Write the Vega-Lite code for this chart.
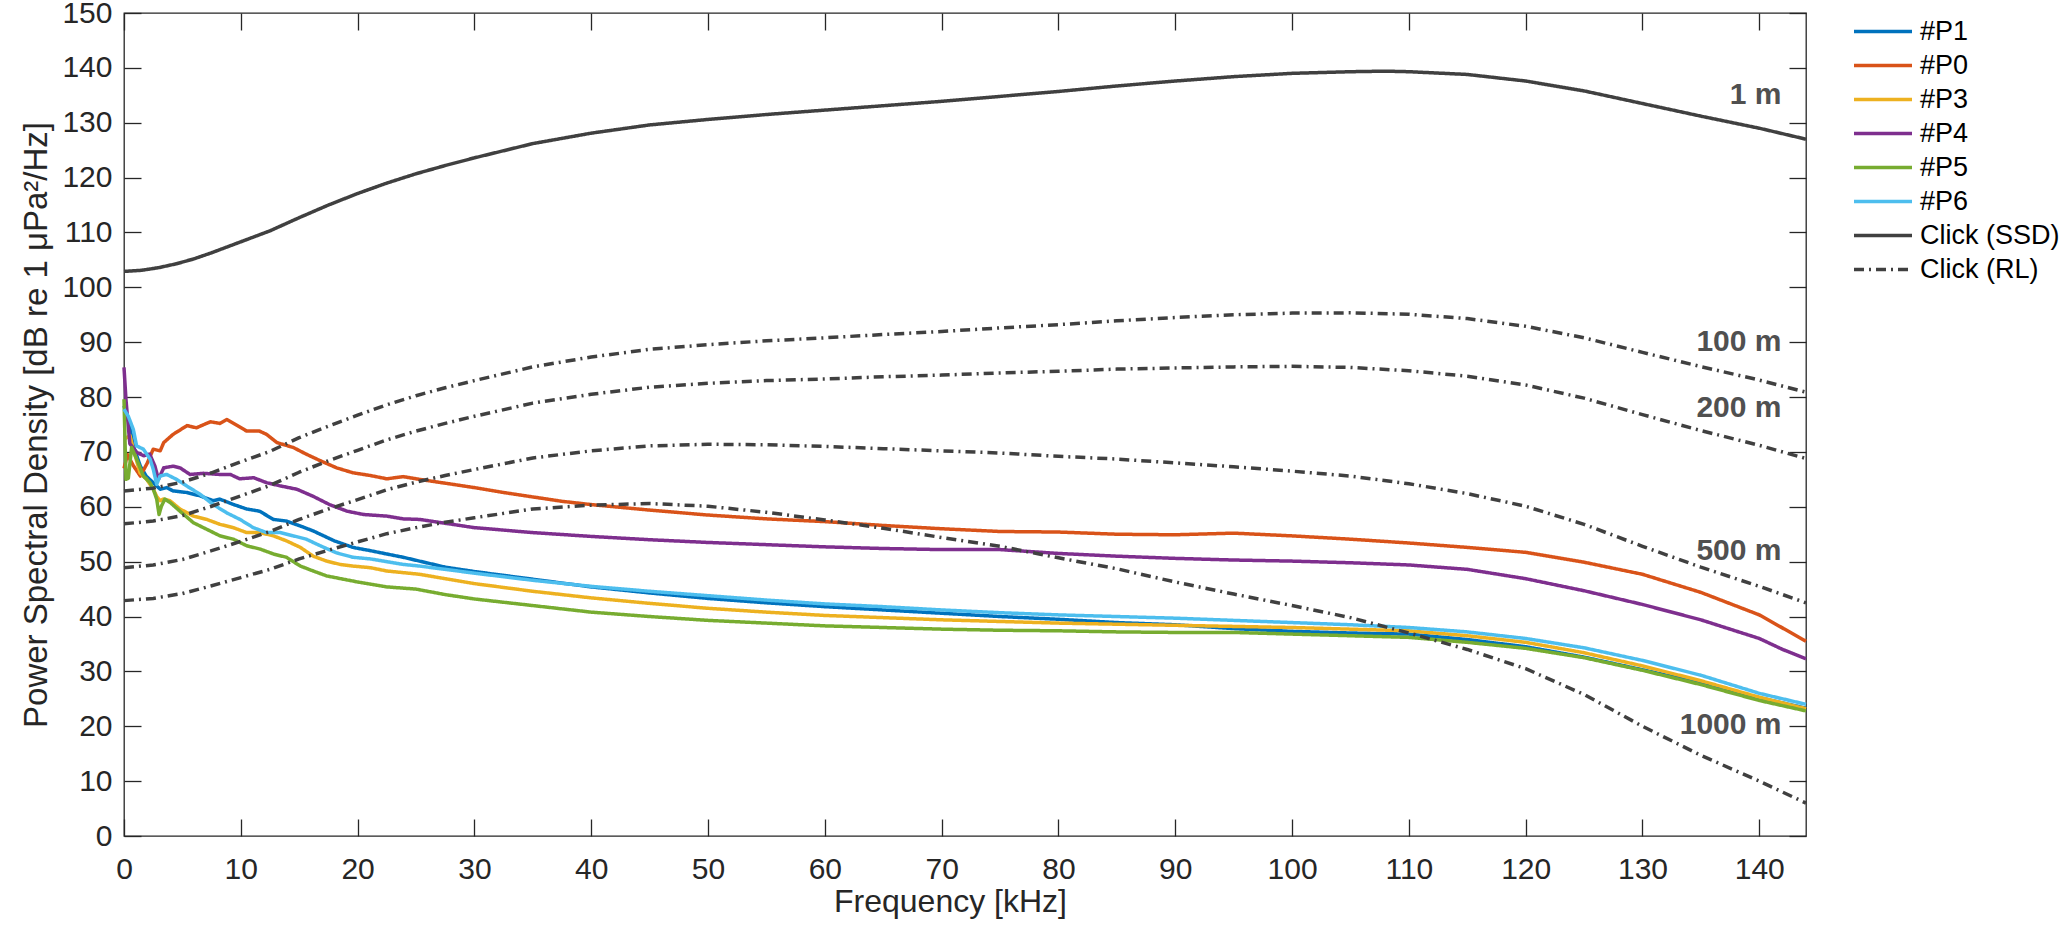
{
"$schema": "https://vega.github.io/schema/vega-lite/v6.json",
"width": 1682, "height": 823,
"autosize": {"type": "none"},
"padding": {"left": 124, "top": 13, "right": 257, "bottom": 99},
"background": "white",
"config": {
  "font": "Liberation Sans",
  "view": {"stroke": "#262626", "strokeWidth": 1.3},
  "axis": {"domain": false, "grid": false, "tickColor": "#262626", "tickWidth": 1.3, "tickSize": -17, "labelFlush": false, "labelOverlap": false,
           "labelFont": "Liberation Sans", "labelFontSize": 30, "labelColor": "#262626",
           "titleFont": "Liberation Sans", "titleFontSize": 32, "titleFontWeight": "normal", "titleColor": "#262626"},
  "legend": {"orient": "none", "legendX": 1728, "legendY": 5, "padding": 0, "title": null,
             "labelFont": "Liberation Sans", "labelFontSize": 27, "labelColor": "#000000", "labelOffset": 6,
             "symbolType": "stroke", "symbolSize": 3364, "clipHeight": 27, "rowPadding": 6}
},
"datasets": {
"curves": [
{"s":"#P1","c":"P1","f":0,"v":78.4},{"s":"#P1","c":"P1","f":0.37,"v":75.9},{"s":"#P1","c":"P1","f":0.8,"v":71.1},{"s":"#P1","c":"P1","f":1.4,"v":67.4},{"s":"#P1","c":"P1","f":1.9,"v":65.6},{"s":"#P1","c":"P1","f":2.5,"v":64.4},{"s":"#P1","c":"P1","f":3.1,"v":63.2},{"s":"#P1","c":"P1","f":3.65,"v":63.5},{"s":"#P1","c":"P1","f":4.2,"v":62.9},{"s":"#P1","c":"P1","f":5.4,"v":62.6},{"s":"#P1","c":"P1","f":6.5,"v":62.0},{"s":"#P1","c":"P1","f":7.65,"v":61.1},{"s":"#P1","c":"P1","f":8.2,"v":61.4},{"s":"#P1","c":"P1","f":9.4,"v":60.4},{"s":"#P1","c":"P1","f":10.5,"v":59.6},{"s":"#P1","c":"P1","f":11.6,"v":59.2},{"s":"#P1","c":"P1","f":12.8,"v":57.7},{"s":"#P1","c":"P1","f":13.9,"v":57.4},{"s":"#P1","c":"P1","f":15.1,"v":56.5},{"s":"#P1","c":"P1","f":16.2,"v":55.6},{"s":"#P1","c":"P1","f":18.0,"v":53.8},{"s":"#P1","c":"P1","f":19.6,"v":52.6},{"s":"#P1","c":"P1","f":21.1,"v":52.0},{"s":"#P1","c":"P1","f":22.5,"v":51.4},{"s":"#P1","c":"P1","f":23.9,"v":50.8},{"s":"#P1","c":"P1","f":25.3,"v":50.1},{"s":"#P1","c":"P1","f":27.5,"v":49.0},{"s":"#P1","c":"P1","f":30,"v":48.2},{"s":"#P1","c":"P1","f":35,"v":46.8},{"s":"#P1","c":"P1","f":40,"v":45.4},{"s":"#P1","c":"P1","f":45,"v":44.3},{"s":"#P1","c":"P1","f":50,"v":43.3},{"s":"#P1","c":"P1","f":55,"v":42.5},{"s":"#P1","c":"P1","f":60,"v":41.8},{"s":"#P1","c":"P1","f":65,"v":41.2},{"s":"#P1","c":"P1","f":70,"v":40.6},{"s":"#P1","c":"P1","f":75,"v":40.0},{"s":"#P1","c":"P1","f":80,"v":39.5},{"s":"#P1","c":"P1","f":85,"v":38.9},{"s":"#P1","c":"P1","f":90,"v":38.5},{"s":"#P1","c":"P1","f":95,"v":37.8},{"s":"#P1","c":"P1","f":100,"v":37.3},{"s":"#P1","c":"P1","f":105,"v":37.0},{"s":"#P1","c":"P1","f":110,"v":36.8},{"s":"#P1","c":"P1","f":115,"v":35.8},{"s":"#P1","c":"P1","f":120,"v":34.5},{"s":"#P1","c":"P1","f":125,"v":32.6},{"s":"#P1","c":"P1","f":130,"v":30.3},{"s":"#P1","c":"P1","f":135,"v":27.9},{"s":"#P1","c":"P1","f":140,"v":25.2},{"s":"#P1","c":"P1","f":144,"v":23.3},

{"s":"#P0","c":"P0","f":0,"v":67.0},{"s":"#P0","c":"P0","f":0.3,"v":69.5},{"s":"#P0","c":"P0","f":0.8,"v":67.5},{"s":"#P0","c":"P0","f":1.4,"v":65.6},{"s":"#P0","c":"P0","f":2.0,"v":68.0},{"s":"#P0","c":"P0","f":2.5,"v":70.5},{"s":"#P0","c":"P0","f":3.1,"v":70.2},{"s":"#P0","c":"P0","f":3.4,"v":71.7},{"s":"#P0","c":"P0","f":4.2,"v":73.2},{"s":"#P0","c":"P0","f":5.4,"v":74.8},{"s":"#P0","c":"P0","f":6.2,"v":74.4},{"s":"#P0","c":"P0","f":7.4,"v":75.5},{"s":"#P0","c":"P0","f":8.2,"v":75.2},{"s":"#P0","c":"P0","f":8.8,"v":75.9},{"s":"#P0","c":"P0","f":9.7,"v":74.8},{"s":"#P0","c":"P0","f":10.5,"v":73.8},{"s":"#P0","c":"P0","f":11.6,"v":73.8},{"s":"#P0","c":"P0","f":12.2,"v":73.2},{"s":"#P0","c":"P0","f":13.1,"v":71.7},{"s":"#P0","c":"P0","f":14.5,"v":70.8},{"s":"#P0","c":"P0","f":15.6,"v":69.6},{"s":"#P0","c":"P0","f":16.8,"v":68.4},{"s":"#P0","c":"P0","f":18.2,"v":67.1},{"s":"#P0","c":"P0","f":19.6,"v":66.2},{"s":"#P0","c":"P0","f":21.1,"v":65.7},{"s":"#P0","c":"P0","f":22.5,"v":65.1},{"s":"#P0","c":"P0","f":23.9,"v":65.5},{"s":"#P0","c":"P0","f":25.3,"v":65.0},{"s":"#P0","c":"P0","f":27.5,"v":64.3},{"s":"#P0","c":"P0","f":30,"v":63.5},{"s":"#P0","c":"P0","f":32.5,"v":62.6},{"s":"#P0","c":"P0","f":35,"v":61.8},{"s":"#P0","c":"P0","f":37.5,"v":61.0},{"s":"#P0","c":"P0","f":40,"v":60.4},{"s":"#P0","c":"P0","f":45,"v":59.4},{"s":"#P0","c":"P0","f":50,"v":58.5},{"s":"#P0","c":"P0","f":55,"v":57.8},{"s":"#P0","c":"P0","f":60,"v":57.3},{"s":"#P0","c":"P0","f":65,"v":56.6},{"s":"#P0","c":"P0","f":70,"v":56.0},{"s":"#P0","c":"P0","f":75,"v":55.5},{"s":"#P0","c":"P0","f":80,"v":55.4},{"s":"#P0","c":"P0","f":85,"v":55.0},{"s":"#P0","c":"P0","f":90,"v":54.9},{"s":"#P0","c":"P0","f":95,"v":55.2},{"s":"#P0","c":"P0","f":100,"v":54.7},{"s":"#P0","c":"P0","f":105,"v":54.1},{"s":"#P0","c":"P0","f":110,"v":53.4},{"s":"#P0","c":"P0","f":115,"v":52.6},{"s":"#P0","c":"P0","f":120,"v":51.7},{"s":"#P0","c":"P0","f":125,"v":49.9},{"s":"#P0","c":"P0","f":130,"v":47.7},{"s":"#P0","c":"P0","f":135,"v":44.4},{"s":"#P0","c":"P0","f":140,"v":40.3},{"s":"#P0","c":"P0","f":144,"v":35.5},

{"s":"#P3","c":"P3","f":0,"v":72.3},{"s":"#P3","c":"P3","f":0.51,"v":73.0},{"s":"#P3","c":"P3","f":0.8,"v":70.5},{"s":"#P3","c":"P3","f":1.37,"v":66.2},{"s":"#P3","c":"P3","f":1.94,"v":65.0},{"s":"#P3","c":"P3","f":2.51,"v":63.2},{"s":"#P3","c":"P3","f":2.8,"v":61.9},{"s":"#P3","c":"P3","f":3.08,"v":61.1},{"s":"#P3","c":"P3","f":3.37,"v":61.4},{"s":"#P3","c":"P3","f":3.94,"v":61.1},{"s":"#P3","c":"P3","f":4.79,"v":59.6},{"s":"#P3","c":"P3","f":5.94,"v":58.3},{"s":"#P3","c":"P3","f":7.08,"v":57.7},{"s":"#P3","c":"P3","f":8.22,"v":56.8},{"s":"#P3","c":"P3","f":9.36,"v":56.2},{"s":"#P3","c":"P3","f":10.5,"v":55.3},{"s":"#P3","c":"P3","f":11.64,"v":55.3},{"s":"#P3","c":"P3","f":12.8,"v":54.7},{"s":"#P3","c":"P3","f":13.9,"v":53.8},{"s":"#P3","c":"P3","f":15.1,"v":52.6},{"s":"#P3","c":"P3","f":16.2,"v":51.0},{"s":"#P3","c":"P3","f":17.35,"v":50.1},{"s":"#P3","c":"P3","f":18.5,"v":49.5},{"s":"#P3","c":"P3","f":19.6,"v":49.2},{"s":"#P3","c":"P3","f":21.1,"v":48.9},{"s":"#P3","c":"P3","f":22.5,"v":48.3},{"s":"#P3","c":"P3","f":23.9,"v":48.0},{"s":"#P3","c":"P3","f":25.3,"v":47.7},{"s":"#P3","c":"P3","f":27.5,"v":46.9},{"s":"#P3","c":"P3","f":30,"v":46.0},{"s":"#P3","c":"P3","f":35,"v":44.6},{"s":"#P3","c":"P3","f":40,"v":43.4},{"s":"#P3","c":"P3","f":45,"v":42.4},{"s":"#P3","c":"P3","f":50,"v":41.5},{"s":"#P3","c":"P3","f":55,"v":40.8},{"s":"#P3","c":"P3","f":60,"v":40.2},{"s":"#P3","c":"P3","f":65,"v":39.8},{"s":"#P3","c":"P3","f":70,"v":39.4},{"s":"#P3","c":"P3","f":75,"v":39.1},{"s":"#P3","c":"P3","f":80,"v":38.8},{"s":"#P3","c":"P3","f":85,"v":38.6},{"s":"#P3","c":"P3","f":90,"v":38.4},{"s":"#P3","c":"P3","f":95,"v":38.2},{"s":"#P3","c":"P3","f":100,"v":38.0},{"s":"#P3","c":"P3","f":105,"v":37.7},{"s":"#P3","c":"P3","f":110,"v":37.4},{"s":"#P3","c":"P3","f":115,"v":36.5},{"s":"#P3","c":"P3","f":120,"v":35.3},{"s":"#P3","c":"P3","f":125,"v":33.4},{"s":"#P3","c":"P3","f":130,"v":31.0},{"s":"#P3","c":"P3","f":135,"v":28.3},{"s":"#P3","c":"P3","f":140,"v":25.3},{"s":"#P3","c":"P3","f":144,"v":23.2},

{"s":"#P4","c":"P4","f":0,"v":85.4},{"s":"#P4","c":"P4","f":0.17,"v":79.5},{"s":"#P4","c":"P4","f":0.5,"v":71.5},{"s":"#P4","c":"P4","f":1.1,"v":69.9},{"s":"#P4","c":"P4","f":1.7,"v":69.3},{"s":"#P4","c":"P4","f":2.2,"v":69.6},{"s":"#P4","c":"P4","f":2.65,"v":67.4},{"s":"#P4","c":"P4","f":2.95,"v":65.0},{"s":"#P4","c":"P4","f":3.4,"v":67.1},{"s":"#P4","c":"P4","f":4.2,"v":67.4},{"s":"#P4","c":"P4","f":4.8,"v":67.1},{"s":"#P4","c":"P4","f":5.65,"v":65.9},{"s":"#P4","c":"P4","f":6.8,"v":66.1},{"s":"#P4","c":"P4","f":8.2,"v":65.9},{"s":"#P4","c":"P4","f":9.1,"v":65.9},{"s":"#P4","c":"P4","f":9.9,"v":65.1},{"s":"#P4","c":"P4","f":11.1,"v":65.3},{"s":"#P4","c":"P4","f":12.2,"v":64.4},{"s":"#P4","c":"P4","f":13.4,"v":63.8},{"s":"#P4","c":"P4","f":14.8,"v":63.2},{"s":"#P4","c":"P4","f":16.2,"v":61.9},{"s":"#P4","c":"P4","f":17.6,"v":60.4},{"s":"#P4","c":"P4","f":19.1,"v":59.2},{"s":"#P4","c":"P4","f":20.5,"v":58.6},{"s":"#P4","c":"P4","f":22.5,"v":58.3},{"s":"#P4","c":"P4","f":23.9,"v":57.8},{"s":"#P4","c":"P4","f":25.3,"v":57.7},{"s":"#P4","c":"P4","f":27.5,"v":57.0},{"s":"#P4","c":"P4","f":30,"v":56.2},{"s":"#P4","c":"P4","f":35,"v":55.3},{"s":"#P4","c":"P4","f":40,"v":54.6},{"s":"#P4","c":"P4","f":45,"v":54.0},{"s":"#P4","c":"P4","f":50,"v":53.5},{"s":"#P4","c":"P4","f":55,"v":53.1},{"s":"#P4","c":"P4","f":60,"v":52.7},{"s":"#P4","c":"P4","f":65,"v":52.4},{"s":"#P4","c":"P4","f":70,"v":52.2},{"s":"#P4","c":"P4","f":75,"v":52.2},{"s":"#P4","c":"P4","f":80,"v":51.5},{"s":"#P4","c":"P4","f":85,"v":51.0},{"s":"#P4","c":"P4","f":90,"v":50.6},{"s":"#P4","c":"P4","f":95,"v":50.3},{"s":"#P4","c":"P4","f":100,"v":50.1},{"s":"#P4","c":"P4","f":105,"v":49.8},{"s":"#P4","c":"P4","f":110,"v":49.4},{"s":"#P4","c":"P4","f":115,"v":48.6},{"s":"#P4","c":"P4","f":120,"v":46.9},{"s":"#P4","c":"P4","f":125,"v":44.7},{"s":"#P4","c":"P4","f":130,"v":42.2},{"s":"#P4","c":"P4","f":135,"v":39.4},{"s":"#P4","c":"P4","f":140,"v":36.0},{"s":"#P4","c":"P4","f":142,"v":34.0},{"s":"#P4","c":"P4","f":144,"v":32.3},

{"s":"#P5","c":"P5","f":0,"v":79.6},{"s":"#P5","c":"P5","f":0.17,"v":65.0},{"s":"#P5","c":"P5","f":0.37,"v":65.2},{"s":"#P5","c":"P5","f":0.65,"v":70.8},{"s":"#P5","c":"P5","f":1.08,"v":68.7},{"s":"#P5","c":"P5","f":1.66,"v":65.6},{"s":"#P5","c":"P5","f":2.23,"v":64.4},{"s":"#P5","c":"P5","f":2.51,"v":63.2},{"s":"#P5","c":"P5","f":2.8,"v":61.4},{"s":"#P5","c":"P5","f":3.0,"v":58.6},{"s":"#P5","c":"P5","f":3.2,"v":60.1},{"s":"#P5","c":"P5","f":3.5,"v":61.4},{"s":"#P5","c":"P5","f":3.94,"v":60.8},{"s":"#P5","c":"P5","f":4.79,"v":59.2},{"s":"#P5","c":"P5","f":5.94,"v":57.1},{"s":"#P5","c":"P5","f":7.08,"v":55.9},{"s":"#P5","c":"P5","f":8.22,"v":54.7},{"s":"#P5","c":"P5","f":9.36,"v":54.1},{"s":"#P5","c":"P5","f":10.5,"v":52.9},{"s":"#P5","c":"P5","f":11.64,"v":52.3},{"s":"#P5","c":"P5","f":12.8,"v":51.4},{"s":"#P5","c":"P5","f":13.9,"v":50.8},{"s":"#P5","c":"P5","f":15.1,"v":49.2},{"s":"#P5","c":"P5","f":16.2,"v":48.3},{"s":"#P5","c":"P5","f":17.35,"v":47.4},{"s":"#P5","c":"P5","f":20,"v":46.3},{"s":"#P5","c":"P5","f":22.5,"v":45.4},{"s":"#P5","c":"P5","f":25,"v":45.0},{"s":"#P5","c":"P5","f":27.5,"v":44.0},{"s":"#P5","c":"P5","f":30,"v":43.2},{"s":"#P5","c":"P5","f":35,"v":42.0},{"s":"#P5","c":"P5","f":40,"v":40.8},{"s":"#P5","c":"P5","f":45,"v":40.0},{"s":"#P5","c":"P5","f":50,"v":39.3},{"s":"#P5","c":"P5","f":55,"v":38.8},{"s":"#P5","c":"P5","f":60,"v":38.3},{"s":"#P5","c":"P5","f":65,"v":38.0},{"s":"#P5","c":"P5","f":70,"v":37.7},{"s":"#P5","c":"P5","f":75,"v":37.5},{"s":"#P5","c":"P5","f":80,"v":37.4},{"s":"#P5","c":"P5","f":85,"v":37.2},{"s":"#P5","c":"P5","f":90,"v":37.1},{"s":"#P5","c":"P5","f":95,"v":37.1},{"s":"#P5","c":"P5","f":100,"v":36.8},{"s":"#P5","c":"P5","f":105,"v":36.5},{"s":"#P5","c":"P5","f":110,"v":36.2},{"s":"#P5","c":"P5","f":115,"v":35.3},{"s":"#P5","c":"P5","f":120,"v":34.2},{"s":"#P5","c":"P5","f":125,"v":32.5},{"s":"#P5","c":"P5","f":130,"v":30.2},{"s":"#P5","c":"P5","f":135,"v":27.6},{"s":"#P5","c":"P5","f":140,"v":24.7},{"s":"#P5","c":"P5","f":144,"v":22.8},

{"s":"#P6","c":"P6","f":0,"v":77.8},{"s":"#P6","c":"P6","f":0.37,"v":76.5},{"s":"#P6","c":"P6","f":0.8,"v":74.1},{"s":"#P6","c":"P6","f":1.08,"v":71.1},{"s":"#P6","c":"P6","f":1.66,"v":70.5},{"s":"#P6","c":"P6","f":2.23,"v":68.7},{"s":"#P6","c":"P6","f":2.51,"v":66.8},{"s":"#P6","c":"P6","f":2.8,"v":64.1},{"s":"#P6","c":"P6","f":3.08,"v":65.6},{"s":"#P6","c":"P6","f":3.65,"v":65.9},{"s":"#P6","c":"P6","f":4.5,"v":65.0},{"s":"#P6","c":"P6","f":5.37,"v":63.8},{"s":"#P6","c":"P6","f":6.5,"v":62.3},{"s":"#P6","c":"P6","f":7.65,"v":60.4},{"s":"#P6","c":"P6","f":8.79,"v":58.9},{"s":"#P6","c":"P6","f":9.93,"v":57.7},{"s":"#P6","c":"P6","f":11.07,"v":56.2},{"s":"#P6","c":"P6","f":12.2,"v":55.3},{"s":"#P6","c":"P6","f":13.4,"v":55.3},{"s":"#P6","c":"P6","f":14.5,"v":54.7},{"s":"#P6","c":"P6","f":15.6,"v":54.1},{"s":"#P6","c":"P6","f":16.8,"v":52.9},{"s":"#P6","c":"P6","f":18.2,"v":51.6},{"s":"#P6","c":"P6","f":19.6,"v":50.8},{"s":"#P6","c":"P6","f":21.1,"v":50.5},{"s":"#P6","c":"P6","f":22.5,"v":50.0},{"s":"#P6","c":"P6","f":23.9,"v":49.5},{"s":"#P6","c":"P6","f":25.3,"v":49.2},{"s":"#P6","c":"P6","f":27.5,"v":48.6},{"s":"#P6","c":"P6","f":30,"v":47.9},{"s":"#P6","c":"P6","f":35,"v":46.6},{"s":"#P6","c":"P6","f":40,"v":45.5},{"s":"#P6","c":"P6","f":45,"v":44.6},{"s":"#P6","c":"P6","f":50,"v":43.8},{"s":"#P6","c":"P6","f":55,"v":43.0},{"s":"#P6","c":"P6","f":60,"v":42.3},{"s":"#P6","c":"P6","f":65,"v":41.8},{"s":"#P6","c":"P6","f":70,"v":41.2},{"s":"#P6","c":"P6","f":75,"v":40.7},{"s":"#P6","c":"P6","f":80,"v":40.3},{"s":"#P6","c":"P6","f":85,"v":40.0},{"s":"#P6","c":"P6","f":90,"v":39.7},{"s":"#P6","c":"P6","f":95,"v":39.3},{"s":"#P6","c":"P6","f":100,"v":38.9},{"s":"#P6","c":"P6","f":105,"v":38.5},{"s":"#P6","c":"P6","f":110,"v":38.0},{"s":"#P6","c":"P6","f":115,"v":37.2},{"s":"#P6","c":"P6","f":120,"v":36.0},{"s":"#P6","c":"P6","f":125,"v":34.3},{"s":"#P6","c":"P6","f":130,"v":32.0},{"s":"#P6","c":"P6","f":135,"v":29.3},{"s":"#P6","c":"P6","f":140,"v":26.0},{"s":"#P6","c":"P6","f":144,"v":24.0},

{"s":"Click (SSD)","c":"SSD","f":0,"v":102.9},{"s":"Click (SSD)","c":"SSD","f":1.5,"v":103.1},{"s":"Click (SSD)","c":"SSD","f":3,"v":103.6},{"s":"Click (SSD)","c":"SSD","f":4.5,"v":104.3},{"s":"Click (SSD)","c":"SSD","f":6,"v":105.2},{"s":"Click (SSD)","c":"SSD","f":7.5,"v":106.3},{"s":"Click (SSD)","c":"SSD","f":10,"v":108.3},{"s":"Click (SSD)","c":"SSD","f":12.5,"v":110.3},{"s":"Click (SSD)","c":"SSD","f":15,"v":112.7},{"s":"Click (SSD)","c":"SSD","f":17.5,"v":115.0},{"s":"Click (SSD)","c":"SSD","f":20,"v":117.1},{"s":"Click (SSD)","c":"SSD","f":22.5,"v":119.0},{"s":"Click (SSD)","c":"SSD","f":25,"v":120.7},{"s":"Click (SSD)","c":"SSD","f":27.5,"v":122.2},{"s":"Click (SSD)","c":"SSD","f":30,"v":123.6},{"s":"Click (SSD)","c":"SSD","f":35,"v":126.2},{"s":"Click (SSD)","c":"SSD","f":40,"v":128.1},{"s":"Click (SSD)","c":"SSD","f":45,"v":129.6},{"s":"Click (SSD)","c":"SSD","f":50,"v":130.6},{"s":"Click (SSD)","c":"SSD","f":55,"v":131.5},{"s":"Click (SSD)","c":"SSD","f":60,"v":132.3},{"s":"Click (SSD)","c":"SSD","f":65,"v":133.1},{"s":"Click (SSD)","c":"SSD","f":70,"v":133.9},{"s":"Click (SSD)","c":"SSD","f":75,"v":134.8},{"s":"Click (SSD)","c":"SSD","f":80,"v":135.7},{"s":"Click (SSD)","c":"SSD","f":85,"v":136.7},{"s":"Click (SSD)","c":"SSD","f":90,"v":137.6},{"s":"Click (SSD)","c":"SSD","f":95,"v":138.4},{"s":"Click (SSD)","c":"SSD","f":100,"v":139.0},{"s":"Click (SSD)","c":"SSD","f":105,"v":139.3},{"s":"Click (SSD)","c":"SSD","f":108,"v":139.4},{"s":"Click (SSD)","c":"SSD","f":110,"v":139.3},{"s":"Click (SSD)","c":"SSD","f":115,"v":138.8},{"s":"Click (SSD)","c":"SSD","f":120,"v":137.6},{"s":"Click (SSD)","c":"SSD","f":125,"v":135.8},{"s":"Click (SSD)","c":"SSD","f":130,"v":133.5},{"s":"Click (SSD)","c":"SSD","f":135,"v":131.2},{"s":"Click (SSD)","c":"SSD","f":140,"v":129.0},{"s":"Click (SSD)","c":"SSD","f":144,"v":127.0},

{"s":"Click (RL)","c":"RL100","f":0,"v":62.9},{"s":"Click (RL)","c":"RL100","f":2.5,"v":63.4},{"s":"Click (RL)","c":"RL100","f":5,"v":64.5},{"s":"Click (RL)","c":"RL100","f":7.5,"v":66.2},{"s":"Click (RL)","c":"RL100","f":10,"v":68.2},{"s":"Click (RL)","c":"RL100","f":12.5,"v":70.1},{"s":"Click (RL)","c":"RL100","f":15,"v":72.6},{"s":"Click (RL)","c":"RL100","f":17.5,"v":74.7},{"s":"Click (RL)","c":"RL100","f":20,"v":76.7},{"s":"Click (RL)","c":"RL100","f":22.5,"v":78.6},{"s":"Click (RL)","c":"RL100","f":25,"v":80.25},{"s":"Click (RL)","c":"RL100","f":27.5,"v":81.7},{"s":"Click (RL)","c":"RL100","f":30,"v":83.0},{"s":"Click (RL)","c":"RL100","f":35,"v":85.5},{"s":"Click (RL)","c":"RL100","f":40,"v":87.3},{"s":"Click (RL)","c":"RL100","f":45,"v":88.7},{"s":"Click (RL)","c":"RL100","f":50,"v":89.55},{"s":"Click (RL)","c":"RL100","f":55,"v":90.25},{"s":"Click (RL)","c":"RL100","f":60,"v":90.8},{"s":"Click (RL)","c":"RL100","f":65,"v":91.4},{"s":"Click (RL)","c":"RL100","f":70,"v":91.95},{"s":"Click (RL)","c":"RL100","f":75,"v":92.6},{"s":"Click (RL)","c":"RL100","f":80,"v":93.2},{"s":"Click (RL)","c":"RL100","f":85,"v":93.9},{"s":"Click (RL)","c":"RL100","f":90,"v":94.5},{"s":"Click (RL)","c":"RL100","f":95,"v":95.0},{"s":"Click (RL)","c":"RL100","f":100,"v":95.3},{"s":"Click (RL)","c":"RL100","f":105,"v":95.35},{"s":"Click (RL)","c":"RL100","f":110,"v":95.1},{"s":"Click (RL)","c":"RL100","f":115,"v":94.3},{"s":"Click (RL)","c":"RL100","f":120,"v":92.9},{"s":"Click (RL)","c":"RL100","f":125,"v":90.8},{"s":"Click (RL)","c":"RL100","f":130,"v":88.15},{"s":"Click (RL)","c":"RL100","f":135,"v":85.55},{"s":"Click (RL)","c":"RL100","f":140,"v":83.1},{"s":"Click (RL)","c":"RL100","f":144,"v":80.9},

{"s":"Click (RL)","c":"RL200","f":0,"v":56.9},{"s":"Click (RL)","c":"RL200","f":2.5,"v":57.4},{"s":"Click (RL)","c":"RL200","f":5,"v":58.4},{"s":"Click (RL)","c":"RL200","f":7.5,"v":60.1},{"s":"Click (RL)","c":"RL200","f":10,"v":62.0},{"s":"Click (RL)","c":"RL200","f":12.5,"v":63.9},{"s":"Click (RL)","c":"RL200","f":15,"v":66.3},{"s":"Click (RL)","c":"RL200","f":17.5,"v":68.4},{"s":"Click (RL)","c":"RL200","f":20,"v":70.3},{"s":"Click (RL)","c":"RL200","f":22.5,"v":72.2},{"s":"Click (RL)","c":"RL200","f":25,"v":73.8},{"s":"Click (RL)","c":"RL200","f":27.5,"v":75.2},{"s":"Click (RL)","c":"RL200","f":30,"v":76.5},{"s":"Click (RL)","c":"RL200","f":35,"v":78.9},{"s":"Click (RL)","c":"RL200","f":40,"v":80.5},{"s":"Click (RL)","c":"RL200","f":45,"v":81.8},{"s":"Click (RL)","c":"RL200","f":50,"v":82.5},{"s":"Click (RL)","c":"RL200","f":55,"v":83.0},{"s":"Click (RL)","c":"RL200","f":60,"v":83.3},{"s":"Click (RL)","c":"RL200","f":65,"v":83.7},{"s":"Click (RL)","c":"RL200","f":70,"v":84.0},{"s":"Click (RL)","c":"RL200","f":75,"v":84.4},{"s":"Click (RL)","c":"RL200","f":80,"v":84.7},{"s":"Click (RL)","c":"RL200","f":85,"v":85.1},{"s":"Click (RL)","c":"RL200","f":90,"v":85.3},{"s":"Click (RL)","c":"RL200","f":95,"v":85.5},{"s":"Click (RL)","c":"RL200","f":100,"v":85.6},{"s":"Click (RL)","c":"RL200","f":105,"v":85.4},{"s":"Click (RL)","c":"RL200","f":110,"v":84.8},{"s":"Click (RL)","c":"RL200","f":115,"v":83.8},{"s":"Click (RL)","c":"RL200","f":120,"v":82.2},{"s":"Click (RL)","c":"RL200","f":125,"v":79.8},{"s":"Click (RL)","c":"RL200","f":130,"v":76.8},{"s":"Click (RL)","c":"RL200","f":135,"v":73.9},{"s":"Click (RL)","c":"RL200","f":140,"v":71.2},{"s":"Click (RL)","c":"RL200","f":144,"v":68.8},

{"s":"Click (RL)","c":"RL500","f":0,"v":48.9},{"s":"Click (RL)","c":"RL500","f":2.5,"v":49.4},{"s":"Click (RL)","c":"RL500","f":5,"v":50.4},{"s":"Click (RL)","c":"RL500","f":7.5,"v":52.0},{"s":"Click (RL)","c":"RL500","f":10,"v":53.7},{"s":"Click (RL)","c":"RL500","f":12.5,"v":55.5},{"s":"Click (RL)","c":"RL500","f":15,"v":57.7},{"s":"Click (RL)","c":"RL500","f":17.5,"v":59.6},{"s":"Click (RL)","c":"RL500","f":20,"v":61.3},{"s":"Click (RL)","c":"RL500","f":22.5,"v":63.1},{"s":"Click (RL)","c":"RL500","f":25,"v":64.5},{"s":"Click (RL)","c":"RL500","f":27.5,"v":65.7},{"s":"Click (RL)","c":"RL500","f":30,"v":66.8},{"s":"Click (RL)","c":"RL500","f":35,"v":68.9},{"s":"Click (RL)","c":"RL500","f":40,"v":70.2},{"s":"Click (RL)","c":"RL500","f":45,"v":71.1},{"s":"Click (RL)","c":"RL500","f":50,"v":71.4},{"s":"Click (RL)","c":"RL500","f":55,"v":71.3},{"s":"Click (RL)","c":"RL500","f":60,"v":71.0},{"s":"Click (RL)","c":"RL500","f":65,"v":70.6},{"s":"Click (RL)","c":"RL500","f":70,"v":70.2},{"s":"Click (RL)","c":"RL500","f":75,"v":69.8},{"s":"Click (RL)","c":"RL500","f":80,"v":69.2},{"s":"Click (RL)","c":"RL500","f":85,"v":68.7},{"s":"Click (RL)","c":"RL500","f":90,"v":68.0},{"s":"Click (RL)","c":"RL500","f":95,"v":67.3},{"s":"Click (RL)","c":"RL500","f":100,"v":66.5},{"s":"Click (RL)","c":"RL500","f":105,"v":65.6},{"s":"Click (RL)","c":"RL500","f":110,"v":64.2},{"s":"Click (RL)","c":"RL500","f":115,"v":62.4},{"s":"Click (RL)","c":"RL500","f":120,"v":60.1},{"s":"Click (RL)","c":"RL500","f":125,"v":56.8},{"s":"Click (RL)","c":"RL500","f":130,"v":52.8},{"s":"Click (RL)","c":"RL500","f":135,"v":49.0},{"s":"Click (RL)","c":"RL500","f":140,"v":45.5},{"s":"Click (RL)","c":"RL500","f":144,"v":42.5},

{"s":"Click (RL)","c":"RL1000","f":0,"v":42.9},{"s":"Click (RL)","c":"RL1000","f":2.5,"v":43.3},{"s":"Click (RL)","c":"RL1000","f":5,"v":44.2},{"s":"Click (RL)","c":"RL1000","f":7.5,"v":45.6},{"s":"Click (RL)","c":"RL1000","f":10,"v":47.1},{"s":"Click (RL)","c":"RL1000","f":12.5,"v":48.6},{"s":"Click (RL)","c":"RL1000","f":15,"v":50.5},{"s":"Click (RL)","c":"RL1000","f":17.5,"v":52.1},{"s":"Click (RL)","c":"RL1000","f":20,"v":53.6},{"s":"Click (RL)","c":"RL1000","f":22.5,"v":55.1},{"s":"Click (RL)","c":"RL1000","f":25,"v":56.2},{"s":"Click (RL)","c":"RL1000","f":27.5,"v":57.2},{"s":"Click (RL)","c":"RL1000","f":30,"v":58.0},{"s":"Click (RL)","c":"RL1000","f":35,"v":59.6},{"s":"Click (RL)","c":"RL1000","f":40,"v":60.3},{"s":"Click (RL)","c":"RL1000","f":45,"v":60.6},{"s":"Click (RL)","c":"RL1000","f":50,"v":60.1},{"s":"Click (RL)","c":"RL1000","f":55,"v":59.0},{"s":"Click (RL)","c":"RL1000","f":60,"v":57.6},{"s":"Click (RL)","c":"RL1000","f":65,"v":56.1},{"s":"Click (RL)","c":"RL1000","f":70,"v":54.4},{"s":"Click (RL)","c":"RL1000","f":75,"v":52.8},{"s":"Click (RL)","c":"RL1000","f":80,"v":50.7},{"s":"Click (RL)","c":"RL1000","f":85,"v":48.7},{"s":"Click (RL)","c":"RL1000","f":90,"v":46.3},{"s":"Click (RL)","c":"RL1000","f":95,"v":44.1},{"s":"Click (RL)","c":"RL1000","f":100,"v":42.0},{"s":"Click (RL)","c":"RL1000","f":105,"v":39.8},{"s":"Click (RL)","c":"RL1000","f":110,"v":37.0},{"s":"Click (RL)","c":"RL1000","f":115,"v":34.0},{"s":"Click (RL)","c":"RL1000","f":120,"v":30.5},{"s":"Click (RL)","c":"RL1000","f":125,"v":25.8},{"s":"Click (RL)","c":"RL1000","f":130,"v":20.0},{"s":"Click (RL)","c":"RL1000","f":135,"v":14.7},{"s":"Click (RL)","c":"RL1000","f":140,"v":10.0},{"s":"Click (RL)","c":"RL1000","f":144,"v":6.0}
],
"labels": [
{"t":"1 m","f":141.9,"v":135.0},
{"t":"100 m","f":141.9,"v":90.0},
{"t":"200 m","f":141.9,"v":78.0},
{"t":"500 m","f":141.9,"v":52.0},
{"t":"1000 m","f":141.9,"v":20.3}
]
},
"layer": [
{
  "data": {"name": "curves"},
  "mark": {"type": "line", "strokeCap": "butt", "strokeJoin": "round"},
  "encoding": {
    "x": {"field": "f", "type": "quantitative", "scale": {"domain": [0, 144], "nice": false, "zero": false},
          "axis": {"orient": "bottom", "values": [0,10,20,30,40,50,60,70,80,90,100,110,120,130,140], "title": "Frequency [kHz]", "labelPadding": 35, "titlePadding": 2, "titleX": 826, "titleAlign": "center", "titleAnchor": null}},
    "y": {"field": "v", "type": "quantitative", "scale": {"domain": [0, 150], "nice": false, "zero": false},
          "axis": {"orient": "left", "values": [0,10,20,30,40,50,60,70,80,90,100,110,120,130,140,150], "title": "Power Spectral Density [dB re 1 μPa²/Hz]", "titleFontSize": 33, "labelPadding": 29, "titlePadding": 8}},
    "color": {"field": "s", "type": "nominal",
              "scale": {"domain": ["#P1","#P0","#P3","#P4","#P5","#P6","Click (SSD)","Click (RL)"],
                        "range": ["#0072BD","#D95319","#EDB120","#7E2F8E","#77AC30","#4DBEEE","#404040","#404040"]}},
    "strokeDash": {"field": "s", "type": "nominal",
              "scale": {"domain": ["#P1","#P0","#P3","#P4","#P5","#P6","Click (SSD)","Click (RL)"],
                        "range": [[1,0],[1,0],[1,0],[1,0],[1,0],[1,0],[1,0],[10,5,2,5]]}},
    "strokeWidth": {"field": "s", "type": "nominal",
              "scale": {"domain": ["#P1","#P0","#P3","#P4","#P5","#P6","Click (SSD)","Click (RL)"],
                        "range": [3.5,3.5,3.5,3.5,3.5,3.5,1.4,1.4]}},
    "detail": {"field": "c", "type": "nominal"}
  }
},
{
  "data": {"name": "labels"},
  "mark": {"type": "text", "align": "right", "baseline": "middle", "font": "Liberation Sans", "fontSize": 30, "fontWeight": "bold", "color": "#505050"},
  "encoding": {
    "x": {"field": "f", "type": "quantitative",
          "axis": {"orient": "top", "values": [0,10,20,30,40,50,60,70,80,90,100,110,120,130,140], "labels": false, "title": null}},
    "y": {"field": "v", "type": "quantitative",
          "axis": {"orient": "right", "values": [0,10,20,30,40,50,60,70,80,90,100,110,120,130,140,150], "labels": false, "title": null}},
    "text": {"field": "t", "type": "nominal"}
  }
}
],
"resolve": {"axis": {"x": "independent", "y": "independent"}}
}
